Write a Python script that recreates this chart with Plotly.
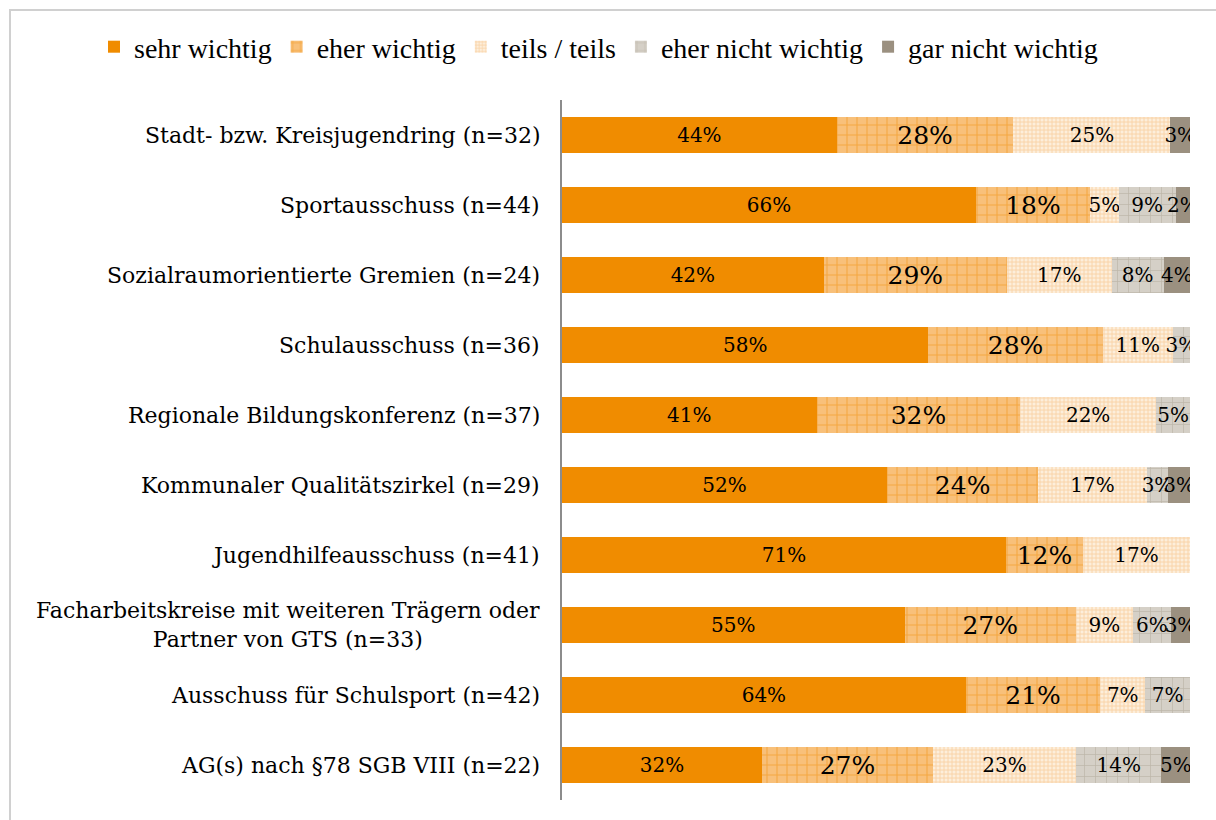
import plotly.graph_objects as go

# --- DATA --- (segment lengths in %; labels are rounded)
categories = [
    'Stadt- bzw. Kreisjugendring (n=32)',
    'Sportausschuss (n=44)',
    'Sozialraumorientierte Gremien (n=24)',
    'Schulausschuss (n=36)',
    'Regionale Bildungskonferenz (n=37)',
    'Kommunaler Qualitätszirkel (n=29)',
    'Jugendhilfeausschuss (n=41)',
    'Facharbeitskreise mit weiteren Trägern oder<br>Partner von GTS (n=33)',
    'Ausschuss für Schulsport (n=42)',
    'AG(s) nach §78 SGB VIII (n=22)',
]
sehr_wichtig = [43.75, 65.91, 41.67, 58.33, 40.54, 51.72, 70.73, 54.55, 64.29, 31.82]
eher_wichtig = [28.13, 18.18, 29.17, 27.78, 32.43, 24.14, 12.20, 27.27, 21.43, 27.27]
teils_teils = [25.00, 4.55, 16.67, 11.11, 21.62, 17.24, 17.07, 9.09, 7.14, 22.73]
eher_nicht_wichtig = [None, 9.09, 8.33, 2.78, 5.41, 3.45, None, 6.06, 7.14, 13.64]
gar_nicht_wichtig = [3.13, 2.27, 4.17, None, None, 3.45, None, 3.03, None, 4.55]

series_names = ['sehr wichtig', 'eher wichtig', 'teils / teils', 'eher nicht wichtig', 'gar nicht wichtig']
series_values = [sehr_wichtig, eher_wichtig, teils_teils, eher_nicht_wichtig, gar_nicht_wichtig]

# --- STYLES ---
FONT = 'DejaVu Serif'
styles = [
    dict(color='#F08C00', pattern=None, size=20),
    dict(color='#F6B462', pattern=dict(shape='+', bgcolor='#F8C07A', fgcolor='#F08E0A', size=10, solidity=0.2), size=25),
    dict(color='#FBDDB5', pattern=dict(shape='+', bgcolor='#FDEEDB', fgcolor='#F5B46C', size=4, solidity=0.4), size=20),
    dict(color='#D3CDC3', pattern=dict(shape='+', bgcolor='#D5D0C7', fgcolor='#A59B8B', size=11, solidity=0.12), size=20),
    dict(color='#9B9080', pattern=None, size=20),
]

# plot area in pixels (used for paper-relative placement of frame/legend)
L, R, T, B = 562, 26, 100, 20
PW, PH = 1216 - L - R, 820 - T - B

fig = go.Figure()

for name, vals, st in zip(series_names, series_values, styles):
    marker = dict(color=st['color'], line=dict(width=0))
    if st['pattern']:
        marker['pattern'] = st['pattern']
    fig.add_trace(go.Bar(
        y=categories, x=vals, name=name, orientation='h',
        marker=marker,
        texttemplate='%{x:.0f}%',
        textposition='inside', insidetextanchor='middle',
        constraintext='none', textangle=0,
        textfont=dict(family=FONT, size=st['size'], color='black'),
        hovertemplate='%{y}<br>' + name + ': %{x:.0f}%<extra></extra>'
    ))

# Category labels (centered multi-line like the original)
for cat in categories:
    fig.add_annotation(
        x=0, y=cat, xref='paper', yref='y', xanchor='right', xshift=-20,
        text=cat, showarrow=False, align='center',
        font=dict(family=FONT, size=22, color='black')
    )

# Outer frame
fig.add_shape(type='rect', xref='paper', yref='paper',
              x0=(10 - L) / PW, x1=(1230 - L) / PW,
              y0=(T + PH - 830) / PH, y1=(T + PH - 10) / PH,
              line=dict(color='#D0D0D0', width=2), layer='below')

fig.update_layout(
    barmode='stack',
    bargap=0.486,
    width=1216, height=820,
    margin=dict(l=L, r=R, t=T, b=B, autoexpand=False),
    plot_bgcolor='white', paper_bgcolor='white',
    font=dict(family=FONT, size=21, color='black'),
    showlegend=True,
    legend=dict(orientation='h', x=(94 - L) / PW, xanchor='left',
                y=(T + PH - 47) / PH, yanchor='middle',
                font=dict(family='Liberation Serif', size=28, color='black'),
                traceorder='normal', bgcolor='rgba(0,0,0,0)'),
    xaxis=dict(range=[0, 100], visible=False),
    yaxis=dict(autorange=False, range=[9.5, -0.5], showticklabels=False,
               showline=True, linecolor='#8C8C8C', linewidth=2, showgrid=False,
               zeroline=False, ticks=''),
)

fig.write_html('out.html', config={'displayModeBar': False},
               post_script="document.body.style.margin='0';")
